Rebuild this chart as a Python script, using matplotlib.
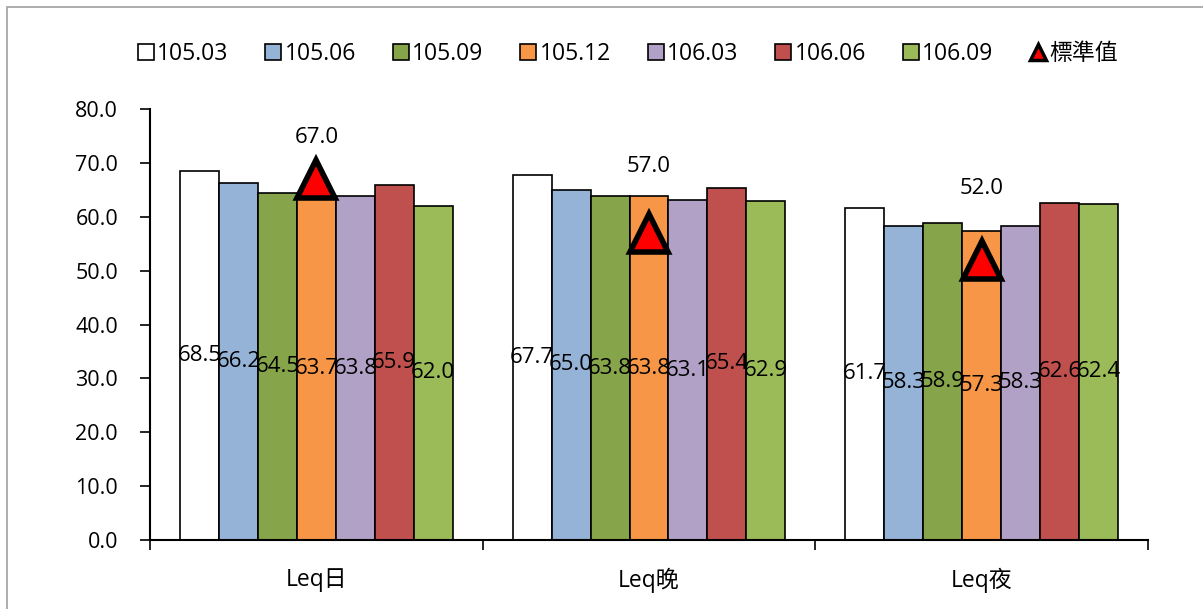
import numpy as np
import matplotlib
matplotlib.use('Agg')
import matplotlib.pyplot as plt
from matplotlib.patches import Rectangle
from matplotlib.lines import Line2D

plt.rcParams['font.family'] = ['Open Sans', 'Noto Sans CJK TC', 'DejaVu Sans']

categories = ['Leq日', 'Leq晚', 'Leq夜']
periods = ['105.03', '105.06', '105.09', '105.12', '106.03', '106.06', '106.09']
values = [
    [68.5, 67.7, 61.7],
    [66.2, 65.0, 58.3],
    [64.5, 63.8, 58.9],
    [63.7, 63.8, 57.3],
    [63.8, 63.1, 58.3],
    [65.9, 65.4, 62.6],
    [62.0, 62.9, 62.4],
]
standard = [67.0, 57.0, 52.0]
colors = ['#FFFFFF', '#95B3D7', '#86A44A', '#F79646', '#B2A1C7', '#C0504D', '#9BBB59']

# where the standard value labels sit (data units)
std_label_y = [74.8, 69.3, 65.2]

fig = plt.figure(figsize=(12.03, 6.09), dpi=100)
fig.patches.append(Rectangle((0.006, -0.05), 1.05, 1.039, transform=fig.transFigure,
                             fill=False, edgecolor='#A0A0A0', linewidth=1.2))
ax = fig.add_axes([0.1247, 0.1133, 0.8296, 0.7077])

x = np.arange(len(categories)) + 0.5
w = 0.117
for i, (p, vals) in enumerate(zip(periods, values)):
    xs = x + (i - 3) * w
    ax.bar(xs, vals, width=w, color=colors[i], edgecolor='black', linewidth=1.2, label=p, zorder=2)
    for xi, v in zip(xs, vals):
        ax.text(xi, v / 2, '{:.1f}'.format(v), ha='center', va='center', fontsize=16, zorder=5)

ax.plot(x, standard, linestyle='none', marker='^', markersize=27, markerfacecolor='#FF0000',
        markeredgecolor='black', markeredgewidth=4, zorder=4)
for xi, s, ly in zip(x, standard, std_label_y):
    ax.text(xi, ly, '{:.1f}'.format(s), ha='center', va='center', fontsize=16)

ax.set_xlim(0, 3)
ax.set_ylim(0, 80)
ax.set_yticks(np.arange(0, 81, 10))
ax.set_yticklabels(['{:.1f}'.format(t) for t in np.arange(0, 81, 10)], fontsize=15.5)
ax.set_xticks([0, 1, 2, 3])
ax.set_xticklabels([])
ax.set_xticks(x, minor=True)
ax.set_xticklabels(categories, minor=True, fontsize=16.5)
ax.tick_params(axis='x', which='major', direction='out', length=7, width=1.2)
ax.tick_params(axis='x', which='minor', length=0, pad=20)
ax.tick_params(axis='y', direction='out', length=7, width=1.2, pad=16)
for s in ['top', 'right']:
    ax.spines[s].set_visible(False)
for s in ['left', 'bottom']:
    ax.spines[s].set_linewidth(1.5)

handles, labels = ax.get_legend_handles_labels()
handles.append(Line2D([], [], linestyle='none', marker='^', markersize=11, markerfacecolor='#FF0000',
                      markeredgecolor='black', markeredgewidth=2.5))
labels.append('標準值')
fig.legend(handles, labels, loc='center', bbox_to_anchor=(0.522, 0.912), ncol=8, frameon=False,
           fontsize=16.5, handlelength=0.7, handleheight=0.7, handletextpad=0.15, columnspacing=1.6)

fig.savefig('out.png', dpi=100)
